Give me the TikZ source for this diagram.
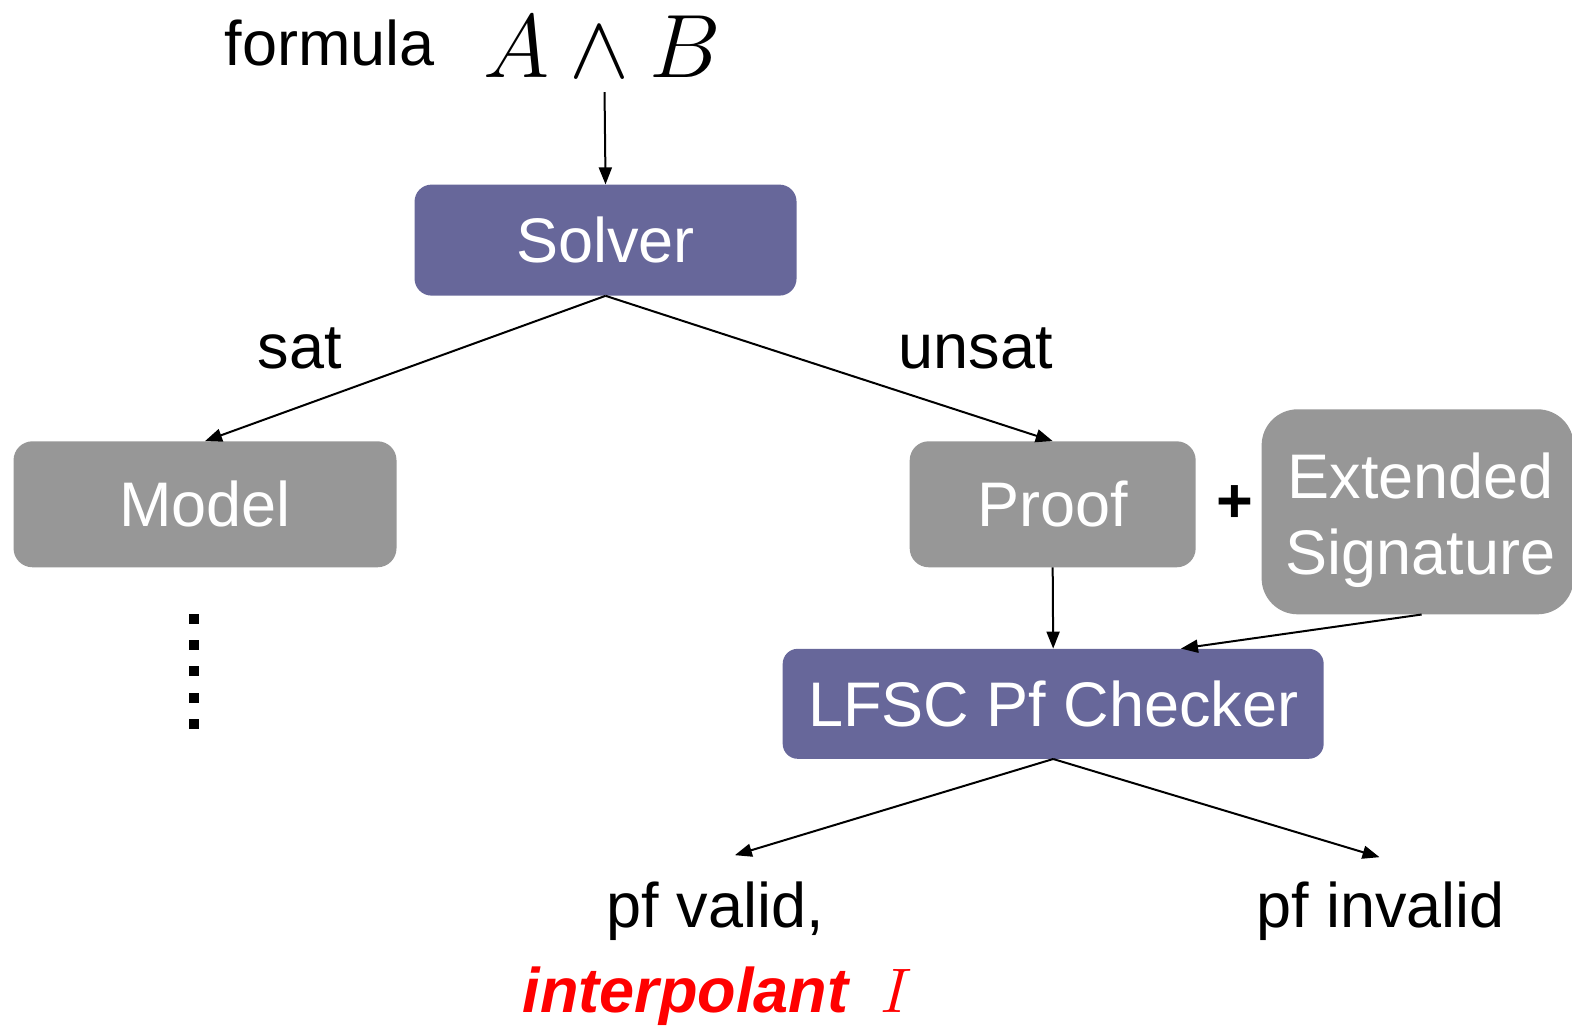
\RequirePackage{fix-cm}
\documentclass[tikz,border=0pt]{standalone}
\usepackage{fontspec}
\setmainfont{Liberation Sans}
\usetikzlibrary{arrows.meta,calc}
\definecolor{boxpurple}{RGB}{103,103,154}
\definecolor{boxgray}{RGB}{151,151,151}
\definecolor{redtext}{RGB}{255,0,0}
\begin{document}
\begin{tikzpicture}[x=1.0026pt,y=-1.0026pt,
  bigfont/.style={font=\fontsize{63}{76}\selectfont},
  boxbase/.style={bigfont, text=white, inner sep=0pt, text height=45pt, text depth=0pt, align=center},
  pbox/.style={boxbase, fill=boxpurple, rounded corners=17pt},
  gbox/.style={boxbase, fill=boxgray, rounded corners=19pt},
  lbl/.style={bigfont, anchor=base west, inner sep=0pt},
  arr/.style={line width=2pt, -{Triangle[length=17pt,width=13pt]}},
  dotsq/.style={fill=black, minimum size=10pt, inner sep=0pt}]
\useasboundingbox (0,0) rectangle (1568,1025.3);

% texts at top
\node[lbl] (formula) at (224,65) {formula};
\node[anchor=base, inner sep=0pt, font=\fontsize{90}{100}\selectfont] (ab) at (601,77) {$A\wedge B$};

% boxes
\node[pbox, minimum width=382pt, minimum height=111pt] (solver) at (604,239.5) {Solver};
\node[gbox, minimum width=383pt, minimum height=126pt] (model) at (204.5,503) {Model};
\node[gbox, minimum width=286pt, minimum height=126pt] (proof) at (1050,503) {Proof};
\node[boxbase, fill=boxgray, rounded corners=36pt, minimum width=312pt, minimum height=205pt, text height=0pt] (ext) at (1414,510.5) {};
\node[bigfont, text=white, anchor=base] (extl1) at (1417,497) {Extended};
\node[bigfont, text=white, anchor=base] (extl2) at (1417,573) {Signature};
\node[pbox, minimum width=541pt, minimum height=110pt, rounded corners=15pt] (checker) at (1050.5,702) {LFSC Pf Checker};

% labels
\node[lbl] (sat) at (257,368) {sat};
\node[lbl] (unsat) at (896,368) {unsat};
\node[bigfont, font=\fontsize{63}{76}\selectfont\bfseries, inner sep=0pt] (plus) at (1232,503) {+};
\node[lbl] (valid) at (605,925) {pf valid,};
\node[lbl, text=redtext] (interp) at (521,1010) {\textbf{\textit{interpolant}}\hspace{30pt}$I$};
\node[lbl] (invalid) at (1253,925) {pf invalid};

% dots
\foreach \yy [count=\i] in {617,643,669,696,722}
  \node[dotsq] (dot\i) at (194,\yy) {};

% connector end points
\coordinate (tv) at (733,853);
\coordinate (ti) at (1376,855);
\coordinate (abbot) at (603,92);

% connectors
\draw[arr] (abbot) -- (solver.north);
\draw[arr] (solver.south) -- (model.north);
\draw[arr] (solver.south) -- (proof.north);
\draw[arr] (proof.south) -- (checker.north);
\draw[arr] ($(ext.south)+(4,0)$) -- ($(checker.north west)!0.736!(checker.north east)$);
\draw[arr] (checker.south) -- (tv);
\draw[arr] (checker.south) -- (ti);
\end{tikzpicture}
\end{document}
